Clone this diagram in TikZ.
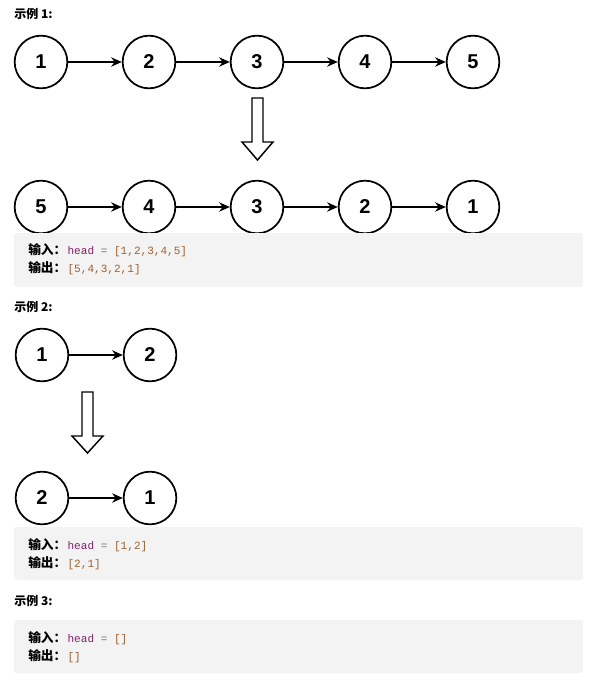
\documentclass[tikz,border=0pt]{standalone}
\usepackage{fontspec}
\setmainfont{Liberation Sans}
\setmonofont{Liberation Mono}
\newfontfamily\cjk{Noto Sans CJK SC}
\usetikzlibrary{arrows.meta}
\definecolor{boxgray}{HTML}{F3F3F3}
\definecolor{kwcol}{HTML}{80206A}
\definecolor{eqcol}{HTML}{777777}
\definecolor{numcol}{HTML}{A0602D}
\newcommand{\lbl}[1]{{\cjk\bfseries\fontsize{9.5}{10}\selectfont #1}\hspace{1pt}}
\begin{document}
\begin{tikzpicture}[x=0.75pt,y=-0.75pt,
  lnode/.style={circle,draw=black,line width=1.3pt,minimum size=39.5pt,inner sep=0pt,font=\fontsize{15}{15}\selectfont\bfseries,fill=white},
  link/.style={line width=1.1pt,-{Stealth[length=8pt,width=7pt]}},
  codebox/.style={fill=boxgray,rounded corners=2pt},
  hdr/.style={anchor=west,inner sep=0pt,font=\cjk\bfseries\fontsize{9}{10}\selectfont},
  codeline/.style={anchor=west,inner sep=0pt,font=\fontsize{8.3}{10}\selectfont},
  blockarrow/.style={draw=black,line width=1.1pt,fill=white,line join=miter}
]
\useasboundingbox (0,0) rectangle (600,682);
\fill[white] (0,0) rectangle (600,682);

% Example 1
\node[hdr] (h1) at (14,14) {示例 1:};
\foreach \v/\x in {1/41,2/149,3/257,4/365,5/473}{
  \node[lnode] (a\v) at (\x,62) {\v};
}
\foreach \u/\v in {1/2,2/3,3/4,4/5}{ \draw[link] (a\u) -- (a\v); }
\draw[blockarrow] (252,98) -- (263,98) -- (263,142) -- (273,142) -- (257.5,160) -- (242,142) -- (252,142) -- cycle;
\foreach \v/\x in {5/41,4/149,3/257,2/365,1/473}{
  \node[lnode] (b\v) at (\x,207) {\v};
}
\foreach \u/\v in {5/4,4/3,3/2,2/1}{ \draw[link] (b\u) -- (b\v); }
\fill[codebox] (14,233) rectangle (583,287);
\node[codeline] (in1) at (28,250) {\lbl{输入：}\texttt{\color{kwcol}head \color{eqcol}= \color{numcol}[1,2,3,4,5]}};
\node[codeline] (out1) at (28,268) {\lbl{输出：}\texttt{\color{numcol}[5,4,3,2,1]}};

% Example 2
\node[hdr] (h2) at (14,307) {示例 2:};
\node[lnode] (c1) at (42,355) {1};
\node[lnode] (c2) at (150,355) {2};
\draw[link] (c1) -- (c2);
\draw[blockarrow] (82,392) -- (93,392) -- (93,436) -- (103,436) -- (87.5,453) -- (72,436) -- (82,436) -- cycle;
\node[lnode] (d2) at (42,498) {2};
\node[lnode] (d1) at (150,498) {1};
\draw[link] (d2) -- (d1);
\fill[codebox] (14,527) rectangle (583,580);
\node[codeline] (in2) at (28,545) {\lbl{输入：}\texttt{\color{kwcol}head \color{eqcol}= \color{numcol}[1,2]}};
\node[codeline] (out2) at (28,563) {\lbl{输出：}\texttt{\color{numcol}[2,1]}};

% Example 3
\node[hdr] (h3) at (14,601) {示例 3:};
\fill[codebox] (14,620) rectangle (583,673);
\node[codeline] (in3) at (28,638) {\lbl{输入：}\texttt{\color{kwcol}head \color{eqcol}= \color{numcol}[]}};
\node[codeline] (out3) at (28,656) {\lbl{输出：}\texttt{\color{numcol}[]}};
\end{tikzpicture}
\end{document}
